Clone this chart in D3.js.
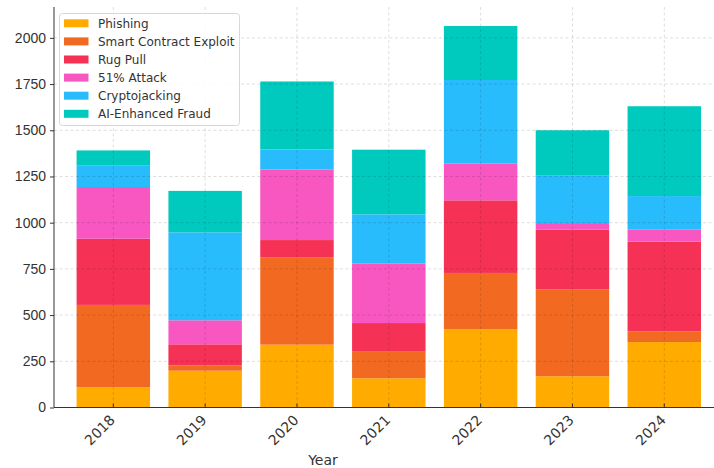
<!DOCTYPE html>
<html>
<head>
<meta charset="utf-8">
<script src="https://cdn.jsdelivr.net/npm/d3@7/dist/d3.min.js"></script>
<style>
  html, body { margin: 0; padding: 0; background: #fff; }
  svg { display: block; font-family: "DejaVu Sans", sans-serif; }
</style>
</head>
<body>
<svg id="chart" width="714" height="468"></svg>
<script>
// Reported incidents per year, stacked by attack type
const years = ["2018", "2019", "2020", "2021", "2022", "2023", "2024"];
const phishing      = [110, 199, 340, 158, 423, 169, 354];
const smartContract = [445,  29, 471, 144, 305, 471,  58];
const rugPull       = [358, 114,  95, 155, 393, 322, 485];
const attack51      = [280, 130, 382, 321, 200,  36,  67];
const cryptojacking = [118, 476, 108, 267, 451, 256, 180];
const aiFraud       = [ 80, 224, 368, 350, 292, 246, 486];
const yTicks = [0, 250, 500, 750, 1000, 1250, 1500, 1750, 2000];

const seriesNames = ["Phishing", "Smart Contract Exploit", "Rug Pull", "51% Attack", "Cryptojacking", "AI-Enhanced Fraud"];
const seriesValues = [phishing, smartContract, rugPull, attack51, cryptojacking, aiFraud];
const colors = ["#FFAB00", "#F26A21", "#F53255", "#F857C1", "#29BCFD", "#00CABE"];

const rows = years.map((yr, i) => {
  const r = { year: yr };
  seriesNames.forEach((n, k) => { r[n] = seriesValues[k][i]; });
  return r;
});
const stacked = d3.stack().keys(seriesNames)(rows);

const svg = d3.select("#chart");
const plotLeft = 54, plotRight = 723.6, plotTop = 7, plotBottom = 407.5;

const x = d3.scaleBand().domain(years).range([plotLeft, plotRight])
  .paddingInner(0.2).paddingOuter(0.246);
const y = d3.scaleLinear().domain([0, 2167]).range([plotBottom, plotTop]);

// bars
svg.append("g").selectAll("g").data(stacked).join("g")
  .attr("fill", (d, i) => colors[i])
  .selectAll("rect").data(d => d).join("rect")
  .attr("x", d => x(d.data.year))
  .attr("width", x.bandwidth())
  .attr("y", d => y(d[1]))
  .attr("height", d => y(d[0]) - y(d[1]));

// dashed grid, faintly visible across the bars
const grid = svg.append("g").attr("stroke", "#000").attr("stroke-opacity", 0.17)
  .attr("stroke-dasharray", "3,2.5").attr("stroke-width", 0.8);
grid.selectAll("line.h").data(yTicks.slice(1)).join("line").attr("class", "h")
  .attr("x1", plotLeft).attr("x2", 714)
  .attr("y1", d => y(d)).attr("y2", d => y(d));
grid.selectAll("line.v").data(years).join("line").attr("class", "v")
  .attr("x1", d => x(d) + x.bandwidth() / 2).attr("x2", d => x(d) + x.bandwidth() / 2)
  .attr("y1", plotTop).attr("y2", plotBottom);

// axes
const yAxis = d3.axisLeft(y).tickValues(yTicks).tickFormat(d3.format("d")).tickSize(4).tickPadding(4);
const gy = svg.append("g").attr("transform", `translate(${plotLeft},0)`).call(yAxis);
gy.select(".domain").attr("stroke", "#333").attr("d", `M0,${plotTop}V${plotBottom}`);
gy.selectAll(".tick line").attr("stroke", "#333");
gy.selectAll(".tick text").attr("fill", "#333").style("font-size", "14px");

const xAxis = d3.axisBottom(x).tickSize(-4).tickSizeOuter(0).tickFormat("");
const gx = svg.append("g").attr("transform", `translate(0,${plotBottom})`).call(xAxis);
gx.select(".domain").attr("stroke", "#333").attr("d", `M${plotLeft},0H714`);
gx.selectAll(".tick line").attr("stroke", "#333");

svg.append("g").selectAll("text").data(years).join("text")
  .attr("transform", d => `translate(${x(d) + x.bandwidth() / 2 - 1},${plotBottom + 10}) rotate(-45)`)
  .attr("text-anchor", "end")
  .attr("dy", "0.35em")
  .attr("fill", "#333")
  .style("font-size", "14px")
  .text(d => d);

svg.append("text")
  .attr("x", 323).attr("y", 465)
  .attr("text-anchor", "middle")
  .attr("fill", "#333")
  .style("font-size", "14px")
  .text("Year");

// legend
const lg = svg.append("g");
lg.append("rect")
  .attr("x", 59.5).attr("y", 13.5).attr("width", 180).attr("height", 112)
  .attr("rx", 3).attr("fill", "#fff").attr("fill-opacity", 0.85)
  .attr("stroke", "#d8d8d8");
const items = lg.selectAll("g.item").data(seriesNames).join("g").attr("class", "item")
  .attr("transform", (d, i) => `translate(64,${23.3 + i * 18.1})`);
items.append("rect").attr("x", 0).attr("y", -4).attr("width", 24.5).attr("height", 8)
  .attr("fill", (d, i) => colors[i]);
items.append("text").attr("x", 34).attr("dy", "0.35em")
  .attr("fill", "#333").style("font-size", "12px")
  .text(d => d);
</script>
</body>
</html>
